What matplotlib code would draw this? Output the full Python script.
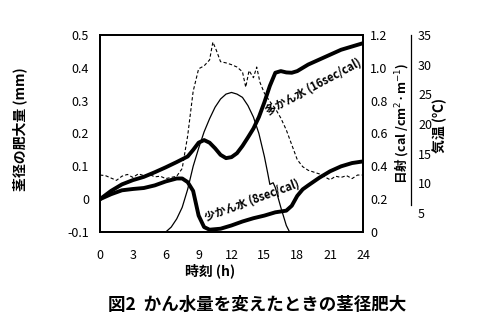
import numpy as np
import matplotlib
matplotlib.use('Agg')
import matplotlib.pyplot as plt

plt.rcParams['font.family'] = ['Liberation Sans Narrow', 'Noto Sans CJK JP', 'DejaVu Sans']
jp = ['Noto Sans CJK JP', 'DejaVu Sans']

# 多かん水 (16sec/cal): stem diameter growth, mm
h_many = [0, 1, 2, 3, 4, 5, 6, 7, 8, 8.5, 9, 9.5, 10, 10.5, 11, 11.5, 12, 12.5,
          13, 13.5, 14, 14.5, 15, 15.5, 16, 16.5, 17, 17.5, 18, 19, 20, 21, 22, 23, 24]
v_many = [0, 0.025, 0.045, 0.058, 0.068, 0.082, 0.097, 0.113, 0.13, 0.15, 0.172, 0.18,
          0.172, 0.155, 0.135, 0.125, 0.128, 0.14, 0.162, 0.188, 0.215, 0.25, 0.295,
          0.345, 0.385, 0.39, 0.386, 0.385, 0.39, 0.41, 0.425, 0.44, 0.455, 0.465, 0.475]

# 少かん水 (8sec/cal)
h_few = [0, 1, 2, 3, 4, 5, 6, 7, 7.5, 8, 8.5, 9, 9.5, 10, 11, 12, 13, 14, 15, 16, 17,
         17.5, 18, 18.5, 19, 20, 21, 22, 23, 24]
v_few = [0, 0.015, 0.027, 0.031, 0.034, 0.042, 0.054, 0.063, 0.063, 0.052, 0.025, -0.05,
         -0.085, -0.093, -0.09, -0.08, -0.068, -0.058, -0.05, -0.04, -0.035, -0.02, 0.01,
         0.03, 0.042, 0.065, 0.085, 0.1, 0.11, 0.115]

# 日射 (cal/cm2·min)
h_rad = [0, 6, 6.5, 7, 7.5, 8, 8.5, 9, 9.5, 10, 10.5, 11, 11.5, 12, 12.5, 13, 13.5, 14,
         14.5, 15, 15.3, 15.5, 15.8, 16, 16.5, 17, 17.3, 24]
rad = [0, 0, 0.03, 0.08, 0.15, 0.26, 0.4, 0.51, 0.61, 0.69, 0.76, 0.81, 0.84, 0.85, 0.84,
       0.82, 0.77, 0.70, 0.6, 0.46, 0.36, 0.29, 0.3, 0.27, 0.15, 0.04, 0, 0]

# 気温 (℃)
h_temp = [0, 0.5, 1, 1.5, 2, 2.5, 3, 3.5, 4, 4.5, 5, 5.5, 6, 6.5, 7, 7.5, 8, 8.5, 9, 9.5,
          10, 10.3, 10.6, 11, 11.5, 12, 12.5, 13, 13.3, 13.6, 14, 14.3, 14.6, 15, 15.5, 16,
          16.5, 17, 17.5, 18, 18.5, 19, 19.5, 20, 21, 21.5, 22, 22.5, 23, 23.5, 24]
temp = [11.4, 11.3, 10.9, 10.5, 11.2, 11.5, 11.0, 11.6, 11.3, 11.5, 11.1, 11.2, 10.8, 11.0,
        11.2, 12.5, 18, 25.5, 29.3, 29.8, 30.8, 33.8, 32.5, 30.5, 30.3, 30.0, 29.6, 28.8,
        26.2, 29.0, 27.8, 29.6, 27, 25.2, 23.8, 22.6, 21, 19, 16.5, 14, 12.8, 12.2, 11.9,
        11.6, 10.6, 11.2, 11.0, 11.3, 10.8, 11.4, 11.4]

fig = plt.figure(figsize=(5, 3.27), dpi=100)
ax = fig.add_axes([0.2, 0.2905, 0.526, 0.6025])
ax2 = ax.twinx()
ax3 = ax.twinx()

ax.plot(h_many, v_many, color='black', lw=2.8, solid_capstyle='round', zorder=3)
ax.plot(h_few, v_few, color='black', lw=2.8, solid_capstyle='round', zorder=3)
ax2.plot(h_rad, rad, color='black', lw=0.9)
ax3.plot(h_temp, temp, color='black', lw=0.8, dashes=(3, 2))

ax.set_xlim(0, 24)
ax.set_ylim(-0.1, 0.5)
ax.set_xticks(np.arange(0, 25, 3))
ax.set_yticks(np.arange(-0.1, 0.51, 0.1))
ax.set_yticklabels(['-0.1', '0', '0.1', '0.2', '0.3', '0.4', '0.5'])
ax2.set_ylim(0, 1.2)
ax2.set_yticks([0, 0.2, 0.4, 0.6, 0.8, 1.0, 1.2])
ax2.set_yticklabels(['0', '0.2', '0.4', '0.6', '0.8', '1.0', '1.2'])
ax3.set_ylim(1.8, 35)
ax3.set_yticks([5, 10, 15, 20, 25, 30, 35])
ax3.spines['right'].set_position(('axes', 1.183))
ax3.spines['right'].set_bounds(6.3, 35)
ax3.spines['right'].set_linewidth(0.9)
for s in ['top', 'left', 'bottom']:
    ax3.spines[s].set_visible(False)

for a in (ax, ax2):
    for s in a.spines.values():
        s.set_linewidth(1.3)

for a in (ax, ax2, ax3):
    a.tick_params(length=0, labelsize=9)
ax.tick_params(axis='x', pad=12)
ax.tick_params(axis='y', pad=8)
ax2.tick_params(axis='y', pad=5)
ax3.tick_params(axis='y', pad=5)

ax.set_xlabel('時刻 (h)', family=jp, fontsize=10, fontweight='bold')
ax.xaxis.set_label_coords(0.418, -0.16)
ax.set_ylabel('茎径の肥大量 (mm)', family=jp, fontsize=10, fontweight='bold')
ax.yaxis.set_label_coords(-0.278, 0.52)
ax2.set_ylabel('日射 (cal /cm$^{2}$·m$^{-1}$)', family=jp, fontsize=9, fontweight='bold')
ax2.yaxis.set_label_coords(1.11, 0.55)
ax3.set_ylabel('気温 (℃)', family=jp, fontsize=10, fontweight='bold')
ax3.yaxis.set_label_coords(1.265, 0.54)

ax.text(19.5, 0.342, '多かん水 (16sec/cal)', family=jp, fontsize=8, fontweight='bold',
        rotation=28, ha='center', va='center', zorder=4)
ax.text(13.9, -0.003, '少かん水 (8sec/cal)', family=jp, fontsize=8, fontweight='bold',
        rotation=20, ha='center', va='center', zorder=4)

fig.text(0.514, 0.068, '図2  かん水量を変えたときの茎径肥大', family=jp, fontsize=12.6,
         fontweight='bold', ha='center', va='center')

fig.savefig('out.png', dpi=100)
